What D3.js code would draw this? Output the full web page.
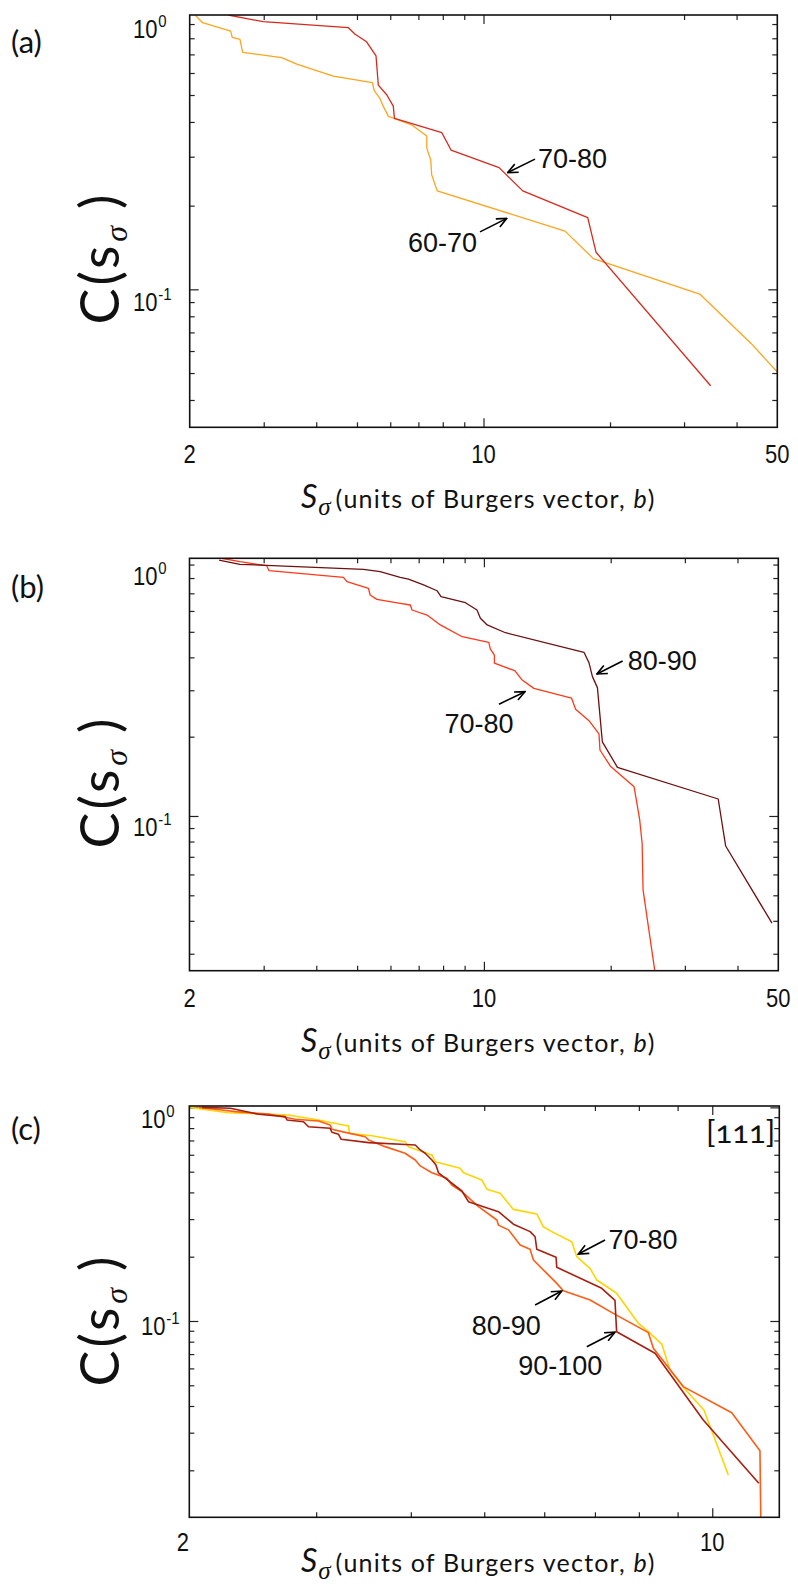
<!DOCTYPE html>
<html>
<head>
<meta charset="utf-8">
<script src="https://cdn.jsdelivr.net/npm/d3@7"></script>
<style>
  body { margin: 0; background: #fff; }
  svg { display: block; }
</style>
</head>
<body>
<div id="chart"></div>
<script>
// ---- panel (a) ----
var a7080S = [2.47, 2.99, 4.77, 4.95, 5.27, 5.55, 5.62, 5.89, 6.10, 6.14, 7.96, 8.37, 10.89, 12.40, 17.70, 18.52, 34.7];
var a7080C = [0.970, 0.918, 0.873, 0.827, 0.777, 0.691, 0.543, 0.500, 0.456, 0.412, 0.366, 0.317, 0.274, 0.226, 0.181, 0.136, 0.045];
var a6070S = [2.06, 2.146, 2.503, 2.525, 2.634, 2.673, 3.31, 3.596, 4.39, 5.44, 5.50, 5.67, 5.78, 5.94, 6.75, 7.33, 7.33, 7.49, 7.53, 7.76, 15.63, 18.25, 32.7, 43.3, 51.0];
var a6070C = [0.970, 0.910, 0.849, 0.806, 0.793, 0.712, 0.681, 0.646, 0.585, 0.554, 0.517, 0.486, 0.454, 0.419, 0.390, 0.356, 0.3215, 0.292, 0.258, 0.226, 0.162, 0.129, 0.0962, 0.0639, 0.0488];

// ---- panel (b) ----
var b8090S = [2.351, 2.634, 5.18, 5.67, 6.33, 6.62, 7.19, 7.74, 7.91, 9.04, 9.63, 9.81, 10.18, 11.25, 17.28, 17.76, 18.10, 18.60, 19.11, 20.75, 36.0, 37.5, 48.3];
var b8090C = [0.936, 0.902, 0.863, 0.846, 0.805, 0.793, 0.753, 0.716, 0.680, 0.645, 0.605, 0.563, 0.531, 0.496, 0.418, 0.382, 0.338, 0.307, 0.191, 0.153, 0.116, 0.0769, 0.0392];
var b7080S = [2.384, 2.634, 3.05, 3.09, 4.64, 4.73, 5.32, 5.37, 5.57, 6.33, 6.69, 6.75, 7.33, 7.88, 8.88, 10.27, 10.36, 10.59, 10.59, 11.84, 12.33, 13.14, 16.15, 16.51, 17.76, 18.76, 18.86, 20.0, 22.73, 23.44, 23.75, 23.87, 25.45];
var b7080C = [0.951, 0.923, 0.891, 0.853, 0.805, 0.775, 0.731, 0.690, 0.664, 0.641, 0.632, 0.605, 0.579, 0.531, 0.479, 0.456, 0.430, 0.408, 0.380, 0.356, 0.328, 0.305, 0.280, 0.254, 0.230, 0.205, 0.178, 0.154, 0.129, 0.0966, 0.0788, 0.0524, 0.0259];

// ---- panel (c) ----
var c7080S = [2.046, 2.298, 2.758, 3.021, 3.310, 3.320, 3.554, 3.931, 3.970, 4.265, 4.308, 4.647, 4.694, 4.964, 5.040, 5.248, 5.464, 5.866, 5.984, 6.139, 6.524, 6.625, 6.899, 7.040, 7.477, 7.987, 8.235, 8.576, 8.796, 9.177, 9.750, 10.50];
var c7080C = [1.0, 0.944, 0.921, 0.873, 0.818, 0.756, 0.737, 0.691, 0.655, 0.599, 0.557, 0.519, 0.494, 0.457, 0.414, 0.396, 0.333, 0.317, 0.276, 0.262, 0.235, 0.200, 0.176, 0.1555, 0.1348, 0.0975, 0.0891, 0.078, 0.059, 0.0486, 0.0383, 0.0190];
var c8090S = [2.099, 2.253, 2.346, 2.596, 2.816, 3.021, 3.130, 3.147, 3.244, 3.482, 3.518, 3.700, 3.931, 4.054, 4.116, 4.265, 4.463, 4.531, 4.672, 4.913, 5.196, 5.221, 5.383, 5.577, 5.748, 5.806, 6.047, 6.233, 6.360, 6.899, 7.402, 8.235, 8.361, 9.156, 10.61, 11.56, 11.59];
var c8090C = [1.0, 0.972, 0.955, 0.931, 0.880, 0.864, 0.827, 0.790, 0.770, 0.729, 0.704, 0.655, 0.610, 0.567, 0.532, 0.494, 0.466, 0.433, 0.403, 0.343, 0.297, 0.281, 0.267, 0.227, 0.2167, 0.193, 0.167, 0.150, 0.1386, 0.1254, 0.1086, 0.0882, 0.0745, 0.0493, 0.0372, 0.0247, 0.0115];
var c90100S = [2.120, 2.310, 2.346, 2.518, 2.731, 2.745, 2.887, 2.931, 3.130, 3.147, 3.211, 3.237, 3.518, 4.054, 4.116, 4.178, 4.265, 4.317, 4.351, 4.672, 4.766, 5.221, 5.464, 5.748, 5.836, 5.866, 6.220, 6.233, 7.146, 7.440, 7.477, 8.404, 9.730, 11.52];
var c90100C = [1.0, 0.99, 0.980, 0.928, 0.905, 0.873, 0.857, 0.812, 0.798, 0.765, 0.748, 0.709, 0.684, 0.667, 0.632, 0.610, 0.567, 0.537, 0.494, 0.406, 0.362, 0.325, 0.284, 0.262, 0.248, 0.2167, 0.1987, 0.1784, 0.1422, 0.125, 0.0891, 0.0706, 0.0344, 0.0174];

// ---- ticks ----
var xMinorAB = [3, 4, 5, 6, 7, 8, 9, 20, 30, 40];
var xMinorC = [3, 4, 5, 6, 7, 8, 9];
var xMajor = [10];
var xLabelsAB = [2, 10, 50];
var xLabelsC = [2, 10];
var yMinor = [0.02, 0.03, 0.04, 0.05, 0.06, 0.07, 0.08, 0.09, 0.2, 0.3, 0.4, 0.5, 0.6, 0.7, 0.8, 0.9];
var yMajor = [0.1, 1];
var yLabels = [1, 0.1];
var yLabelExp = ['0', '-1'];

// ---- annotations: [label, textS, textC, tailS, tailC, tipS, tipC] ----
var aNotes = [
  ['70-80', 13.48, 0.273, 13.26, 0.294, 11.42, 0.263],
  ['60-70', 6.61, 0.1362, 9.81, 0.161, 11.36, 0.180]
];
var bNotes = [
  ['80-90', 21.94, 0.358, 21.35, 0.3875, 18.55, 0.346],
  ['70-80', 8.06, 0.2065, 10.86, 0.2654, 12.52, 0.2963]
];
var cNotes = [
  ['70-80', 7.293, 0.2174, 7.219, 0.2394, 6.656, 0.2059],
  ['80-90', 4.815, 0.086, 5.836, 0.1188, 6.328, 0.1381],
  ['90-100', 5.543, 0.0559, 6.829, 0.0758, 7.44, 0.0886]
];

function zip(s, c) { return s.map(function (v, i) { return [v, c[i]]; }); }

var panels = [
  {
    tag: '(a)', tagY: 53,
    left: 189.7, right: 777.3, top: 15, bottom: 427.3,
    xDomain: [2, 50], yDomain: [0.0319, 0.970],
    xMinor: xMinorAB, xLabels: xLabelsAB, xLabelDy: 36, titleDy: 81,
    yLabelX: 133, yLabelDy: [23, 22], yTitleY: 258,
    series: [
      { pts: zip(a6070S, a6070C), color: '#ffa41c', w: 1.3 },
      { pts: zip(a7080S, a7080C), color: '#d9281b', w: 1.3 }
    ],
    notes: aNotes
  },
  {
    tag: '(b)', tagY: 598,
    left: 189.5, right: 778.3, top: 558.3, bottom: 970.7,
    xDomain: [2, 50], yDomain: [0.02587, 0.9506],
    xMinor: xMinorAB, xLabels: xLabelsAB, xLabelDy: 36, titleDy: 81,
    yLabelX: 133, yLabelDy: [27, 20], yTitleY: 782,
    series: [
      { pts: zip(b7080S, b7080C), color: '#ff3818', w: 1.3 },
      { pts: zip(b8090S, b8090C), color: '#6e1010', w: 1.3 }
    ],
    notes: bNotes
  },
  {
    tag: '(c)', tagY: 1140,
    left: 189.3, right: 779.3, top: 1106, bottom: 1517.3,
    xDomain: [2.04, 12.26], yDomain: [0.01205, 1.015],
    xMinor: xMinorC, xLabels: xLabelsC, xLabelDy: 34, titleDy: 55,
    yLabelX: 141, yLabelDy: [21, 14], yTitleY: 1320,
    series: [
      { pts: zip(c7080S, c7080C), color: '#ffd400', w: 1.6 },
      { pts: zip(c8090S, c8090C), color: '#ff5c14', w: 1.6 },
      { pts: zip(c90100S, c90100C), color: '#a81f10', w: 1.6 }
    ],
    notes: cNotes,
    extra: ['[111]', 9.81, 0.681]
  }
];

var svg = d3.select('#chart').append('svg')
  .attr('width', 798)
  .attr('height', 1584);

var defs = svg.append('defs');
defs.append('marker')
  .attr('id', 'head')
  .attr('viewBox', '-11 -6 12 12')
  .attr('refX', 0).attr('refY', 0)
  .attr('markerWidth', 12).attr('markerHeight', 12)
  .attr('markerUnits', 'userSpaceOnUse')
  .attr('orient', 'auto')
  .append('path')
  .attr('d', 'M-10,-4.5 L0,0 L-10,4.5')
  .attr('fill', 'none')
  .attr('stroke', '#000')
  .attr('stroke-width', 1.6);

var tickFont = 'Liberation Sans, Arial, sans-serif';
var titleFont = 'Lato, "Open Sans", sans-serif';

panels.forEach(function (p, pi) {
  var x = d3.scaleLog().domain(p.xDomain).range([p.left, p.right]);
  var y = d3.scaleLog().domain(p.yDomain).range([p.bottom, p.top]);
  var g = svg.append('g');

  var inY = function (v) { return v >= p.yDomain[0] && v <= p.yDomain[1]; };
  var inX = function (v) { return v >= p.xDomain[0] && v <= p.xDomain[1]; };
  var yMin = yMinor.filter(inY), yMaj = yMajor.filter(inY);
  var xMin = p.xMinor.filter(inX), xMaj = xMajor.filter(inX);

  // axes: ticks pointing inward on all four sides
  function drawAxis(maker, pos, vals, size) {
    var ax = g.append('g')
      .attr('transform', pos)
      .call(maker.tickValues(vals).tickSize(-size).tickSizeOuter(0).tickFormat(''));
    ax.select('.domain').remove();
    ax.selectAll('line').attr('stroke', '#222').attr('stroke-width', 1.2);
  }
  drawAxis(d3.axisBottom(x), 'translate(0,' + p.bottom + ')', xMin, 5);
  drawAxis(d3.axisBottom(x), 'translate(0,' + p.bottom + ')', xMaj, 9);
  drawAxis(d3.axisTop(x), 'translate(0,' + p.top + ')', xMin, 5);
  drawAxis(d3.axisTop(x), 'translate(0,' + p.top + ')', xMaj, 9);
  drawAxis(d3.axisLeft(y), 'translate(' + p.left + ',0)', yMin, 5);
  drawAxis(d3.axisLeft(y), 'translate(' + p.left + ',0)', yMaj, 9);
  drawAxis(d3.axisRight(y), 'translate(' + p.right + ',0)', yMin, 5);
  drawAxis(d3.axisRight(y), 'translate(' + p.right + ',0)', yMaj, 9);

  // clipped curves
  var clipId = 'clip' + pi;
  defs.append('clipPath').attr('id', clipId)
    .append('rect')
    .attr('x', p.left).attr('y', p.top)
    .attr('width', p.right - p.left).attr('height', p.bottom - p.top);

  var line = d3.line()
    .x(function (d) { return x(d[0]); })
    .y(function (d) { return y(d[1]); });

  g.append('g').attr('clip-path', 'url(#' + clipId + ')')
    .selectAll('path')
    .data(p.series)
    .enter()
    .append('path')
    .attr('d', function (d) { return line(d.pts); })
    .attr('fill', 'none')
    .attr('stroke', function (d) { return d.color; })
    .attr('stroke-width', function (d) { return d.w; })
    .attr('stroke-linejoin', 'round');

  // frame
  g.append('rect')
    .attr('x', p.left).attr('y', p.top)
    .attr('width', p.right - p.left).attr('height', p.bottom - p.top)
    .attr('fill', 'none')
    .attr('stroke', '#111')
    .attr('stroke-width', 1.6);

  // x tick labels
  p.xLabels.forEach(function (v) {
    g.append('text')
      .attr('transform', 'translate(' + x(v) + ',' + (p.bottom + p.xLabelDy) + ') scale(0.88,1)')
      .attr('text-anchor', 'middle')
      .attr('font-family', tickFont)
      .attr('font-size', 25)
      .attr('fill', '#111')
      .text(v);
  });

  // y tick labels (10^0, 10^-1)
  yLabels.forEach(function (v, i) {
    var yy = Math.min(Math.max(y(v), p.top), p.bottom) + p.yLabelDy[i];
    var t = g.append('text')
      .attr('transform', 'translate(' + p.yLabelX + ',' + yy + ') scale(0.88,1)')
      .attr('font-family', tickFont)
      .attr('font-size', 25)
      .attr('fill', '#111');
    t.append('tspan').text('10');
    t.append('tspan').attr('font-size', 17).attr('dy', -11).attr('dx', 1).text(yLabelExp[i]);
  });

  // x axis title
  var xt = g.append('text')
    .attr('x', 301)
    .attr('y', p.bottom + p.titleDy)
    .attr('font-family', titleFont)
    .attr('font-size', 25)
    .attr('fill', '#111');
  xt.append('tspan').attr('font-style', 'italic').attr('font-size', 32).text('S');
  xt.append('tspan').attr('font-family', 'Liberation Serif, serif').attr('font-style', 'italic')
    .attr('font-size', 25).attr('dy', 7).attr('dx', 1).text('σ');
  xt.append('tspan').attr('dy', -7).attr('dx', 5).attr('letter-spacing', 1.2).text('(units of Burgers vector, ');
  xt.append('tspan').attr('font-style', 'italic').attr('letter-spacing', 1.2).text('b');
  xt.append('tspan').text(')');

  // y axis title
  var yt = g.append('text')
    .attr('transform', 'translate(119,' + p.yTitleY + ') rotate(-90)')
    .attr('text-anchor', 'middle')
    .attr('font-family', titleFont)
    .attr('font-size', 54)
    .attr('letter-spacing', 3)
    .attr('fill', '#111');
  yt.append('tspan').text('C(s');
  yt.append('tspan').attr('font-family', 'Liberation Serif, serif').attr('font-style', 'italic')
    .attr('font-size', 32).attr('dy', 8).attr('dx', 1).text('σ');
  yt.append('tspan').attr('dy', -8).attr('dx', 14).text(')');

  // panel tag
  g.append('text')
    .attr('x', 11).attr('y', p.tagY)
    .attr('font-family', titleFont)
    .attr('font-size', 31)
    .attr('fill', '#111')
    .text(p.tag);

  // annotations
  p.notes.forEach(function (n) {
    g.append('text')
      .attr('x', x(n[1])).attr('y', y(n[2]))
      .attr('font-family', tickFont)
      .attr('font-size', 27)
      .attr('fill', '#111')
      .text(n[0]);
    g.append('line')
      .attr('x1', x(n[3])).attr('y1', y(n[4]))
      .attr('x2', x(n[5])).attr('y2', y(n[6]))
      .attr('stroke', '#000')
      .attr('stroke-width', 1.6)
      .attr('marker-end', 'url(#head)');
  });

  if (p.extra) {
    g.append('text')
      .attr('x', x(p.extra[1])).attr('y', y(p.extra[2]))
      .attr('font-family', titleFont)
      .attr('font-size', 31)
      .style('font-variant-numeric', 'oldstyle-nums')
      .attr('fill', '#111')
      .text(p.extra[0]);
  }
});
</script>
</body>
</html>
